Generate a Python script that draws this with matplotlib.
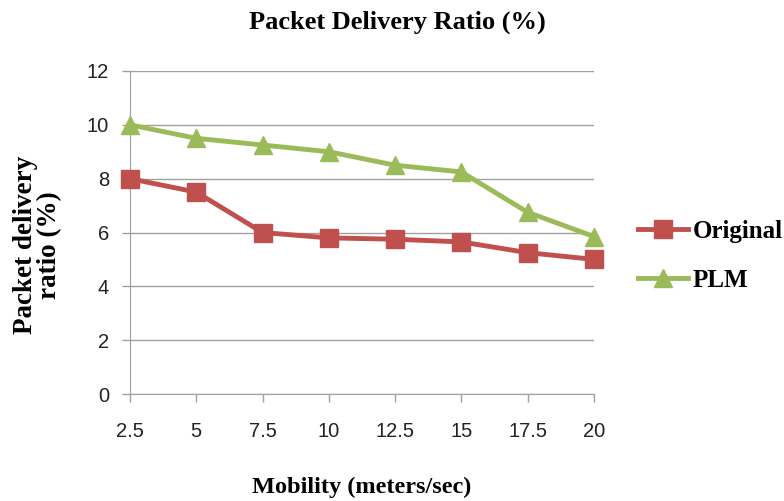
import matplotlib
matplotlib.use("Agg")
import matplotlib.pyplot as plt

mobility = [2.5, 5, 7.5, 10, 12.5, 15, 17.5, 20]
tick_labels = ["2.5", "5", "7.5", "10", "12.5", "15", "17.5", "20"]
original = [8.0, 7.5, 6.0, 5.8, 5.75, 5.65, 5.25, 5.0]
plm = [10.0, 9.5, 9.25, 9.0, 8.5, 8.25, 6.75, 5.85]

RED = "#C0504D"
GREEN = "#9BBB59"
GRID = "#A0A0A0"
SERIF = ["Liberation Serif", "DejaVu Serif"]
SANS = ["Liberation Sans", "DejaVu Sans"]

fig = plt.figure(figsize=(7.84, 5.01), dpi=100)
ax = fig.add_axes([130 / 784, 1 - 394 / 501, (594 - 130) / 784, (394 - 71) / 501])

ax.plot(mobility, original, color=RED, lw=3.5, marker="s", ms=12.5,
        mfc=RED, mec=RED, label="Original", zorder=3)
ax.plot(mobility, plm, color=GREEN, lw=3.5, marker="^", ms=13,
        mfc=GREEN, mec=GREEN, label="PLM", zorder=3)

ax.set_xlim(2.5, 20)
ax.set_ylim(0, 12)
ax.set_xticks(mobility)
ax.set_xticklabels(tick_labels)
ax.set_yticks(range(0, 13, 2))
ax.yaxis.grid(True, color=GRID, lw=1)
ax.set_axisbelow(True)
for side in ("top", "right"):
    ax.spines[side].set_visible(False)
for side in ("left", "bottom"):
    ax.spines[side].set_color(GRID)
ax.tick_params(axis="both", colors=GRID, length=6, width=1, direction="out",
               labelcolor="#222222", labelsize=14.5)
ax.tick_params(axis="x", pad=14)
ax.tick_params(axis="y", pad=9)
for lbl in ax.get_xticklabels() + ax.get_yticklabels():
    lbl.set_family(SANS)
for line in ax.get_lines()[:2]:
    line.set_clip_on(False)

fig.text(397 / 784, 1 - 22 / 501, "Packet Delivery Ratio (%)", ha="center", va="center",
         fontsize=19, fontweight="bold", family=SERIF)
fig.text(362 / 784, 1 - 487 / 501, "Mobility (meters/sec)", ha="center", va="center",
         fontsize=17.5, fontweight="bold", family=SERIF)
fig.text(38 / 784, 1 - 245 / 501, "Packet delivery\nratio (%)", ha="center", va="center",
         rotation=90, fontsize=19.5, fontweight="bold", family=SERIF, linespacing=0.95)

leg = ax.legend(loc="center left", bbox_to_anchor=(638 / 784, 1 - 256 / 501),
                bbox_transform=fig.transFigure, frameon=False,
                prop={"family": SERIF, "weight": "bold", "size": 18},
                handlelength=2.0, handletextpad=0.2, labelspacing=1.05,
                borderaxespad=0, borderpad=0)

fig.savefig("out.png", dpi=100)
